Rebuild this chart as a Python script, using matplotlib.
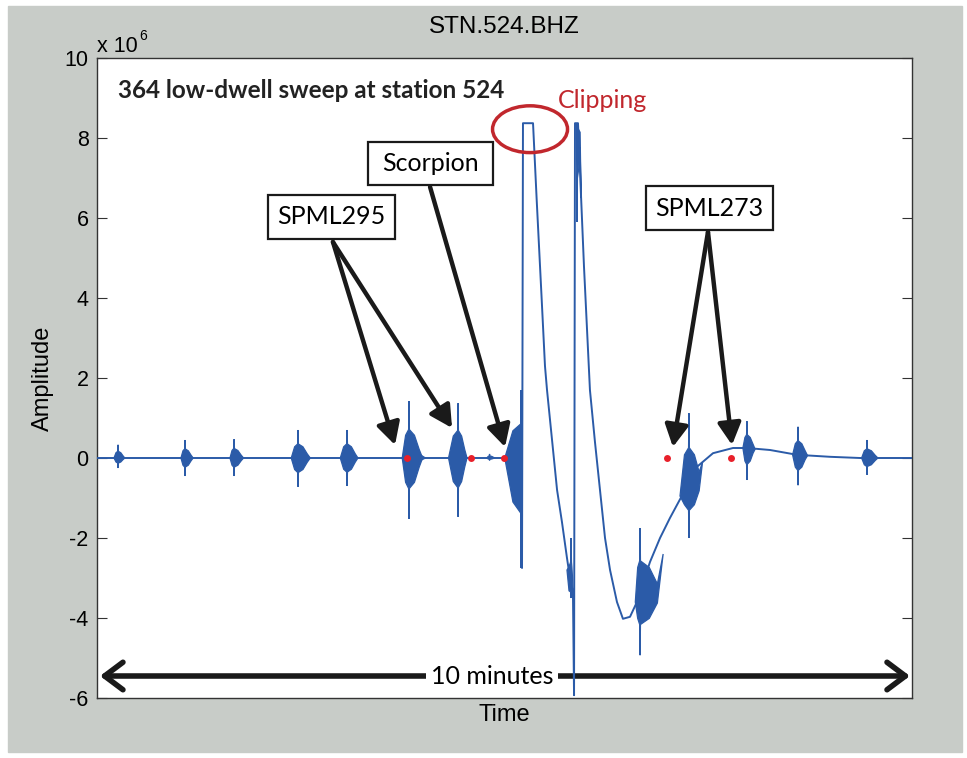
import numpy as np
import matplotlib.pyplot as plt
from matplotlib.patches import Ellipse, Rectangle
from matplotlib import font_manager


# ==================================================
# Data (time in s over a 10 minute window, amplitude in 1e6 counts)
# ==================================================

# slow part of the trace (baseline + the two clipped pulses)
trend_t = [0.0, 300.4, 312.2, 312.9, 313.6, 321.0, 323.7, 327.4, 329.8, 331.3,
           335.0, 338.7, 342.3, 346.0, 348.2, 350.4, 351.2, 351.9, 354.1, 358.5,
           362.9, 366.6, 370.3, 374.0, 377.7, 382.8, 387.2, 392.4, 397.5, 407.1,
           414.5, 421.8, 432.9, 441.7, 453.5, 468.2, 478.5, 495.5, 515.3, 539.6,
           561.7, 600.0]
trend_amp = [0.0, 0.0, 0.0, -2.75, 8.37, 8.37, 6.45, 3.95, 2.3, 1.7,
             0.45, -0.8, -1.6, -2.5, -3.0, -3.4, -5.93, 8.37, 8.37, 4.8,
             1.7, 0.4, -0.8, -2.0, -2.8, -3.6, -4.02, -3.97, -3.6, -2.6,
             -2.0, -1.5, -0.8, -0.22, 0.12, 0.25, 0.25, 0.2, 0.08, 0.03,
             0.0, 0.0]

# shot bursts: peak time, peak top / bottom, onset / coda length, base at start / end
burst_t = [15.5, 64.8, 100.9, 148.0, 184.1, 229.7, 265.8, 237.0, 289.0,
           312.2, 349.0, 353.4, 399.8, 435.8, 478.5, 516.1, 566.9]
burst_hi = [0.33, 0.45, 0.47, 0.70, 0.70, 1.42, 1.37, 0.15, 0.10,
            1.70, -2.0, 8.37, -1.75, 1.12, 0.92, 0.78, 0.45]
burst_lo = [-0.25, -0.45, -0.45, -0.72, -0.70, -1.52, -1.47, -0.12, -0.06,
            -2.75, -3.5, 5.9, -4.93, -2.0, -0.55, -0.68, -0.42]
burst_rise = [3, 3, 3, 5, 5, 5, 7, 2, 2,
              12, 3, 0.5, 3.5, 6.6, 3, 4, 4]
burst_fall = [5, 6, 7, 9, 8, 10, 6.6, 5, 4,
              0.5, 1.5, 3, 17, 10, 6, 7, 8]
burst_b0 = [0, 0, 0, 0, 0, 0, 0, 0, 0,
            0, -2.8, 8.37, -3.6, -0.95, 0.25, 0.08, 0]
burst_b1 = [0, 0, 0, 0, 0, 0, 0, 0, 0,
            0, -3.4, 6.5, -2.4, -0.1, 0.22, 0.06, 0]

# picked arrivals
pick_t = [228.2, 275.3, 299.6, 419.6, 466.7]
pick_amp = [0.0, 0.0, 0.0, 0.0, 0.0]


# ==================================================
# style
# ==================================================

blue = "#2b5ba8"
red_dot = "#e8202a"
red_note = "#c1272d"
ink = "#1a1a1a"

names = {f.name for f in font_manager.fontManager.ttflist}
axis_font = "Liberation Sans" if "Liberation Sans" in names else "DejaVu Sans"
note_font = "Lato" if "Lato" in names else axis_font

plt.rcParams["font.family"] = [axis_font, "DejaVu Sans"]
plt.rcParams["axes.unicode_minus"] = False

W, H = 967, 758


def fx(px):
    return px / W


def fy(py):
    return 1 - py / H


fig = plt.figure(figsize=(W / 100, H / 100), dpi=100)
fig.patch.set_facecolor("white")
fig.patches.append(
    Rectangle((fx(8), fy(752)), fx(962) - fx(8), fy(6) - fy(752),
              transform=fig.transFigure, color="#c8ccc8", zorder=-10)
)

ax = fig.add_axes([fx(97), fy(698), fx(912) - fx(97), fy(58) - fy(698)])
ax.set_facecolor("white")


# ==================================================
# trace
# ==================================================

ax.plot(trend_t, trend_amp, color=blue, lw=1.4, zorder=5)

# each burst: thin spike to the peak values + a spindle-shaped body
for t, hi, lo, r, f, b0, b1 in zip(burst_t, burst_hi, burst_lo, burst_rise,
                                  burst_fall, burst_b0, burst_b1):
    bp = b0 + (b1 - b0) * r / (r + f)
    xs = [t - r, t - 0.5 * r, t - 0.3, t, t + 0.3, t + 0.4 * f,
          t + 0.75 * f, t + f]
    top = [b0, bp + 0.4 * (hi - bp), bp + 0.5 * (hi - bp), hi,
           bp + 0.5 * (hi - bp), bp + 0.4 * (hi - bp),
           bp + 0.15 * (hi - bp), b1]
    bot = [b0, bp + 0.4 * (lo - bp), bp + 0.5 * (lo - bp), lo,
           bp + 0.5 * (lo - bp), bp + 0.4 * (lo - bp),
           bp + 0.15 * (lo - bp), b1]
    ax.fill(xs + xs[::-1], top + bot[::-1], color=blue, lw=0.9, zorder=5)

ax.plot(pick_t, pick_amp, "o", color=red_dot, ms=5, mec="none", zorder=6)


# ==================================================
# axes
# ==================================================

ax.set_xlim(0, 600)
ax.set_ylim(-6, 10)
ax.set_xticks([])
ax.set_yticks(range(-6, 11, 2))
ax.tick_params(direction="in", length=7, right=True, labelsize=15.5,
               colors="#333333", labelcolor="black", pad=6)
for s in ax.spines.values():
    s.set_color("#333333")
    s.set_linewidth(1.0)

ax.set_title("STN.524.BHZ", fontsize=17.5, pad=18)
ax.set_xlabel("Time", fontsize=17, labelpad=4)
ax.set_ylabel("Amplitude", fontsize=17, labelpad=8)

fig.text(fx(97), fy(52), "x 10", fontsize=15.5, ha="left", va="baseline")
fig.text(fx(139), fy(40), "6", fontsize=10, ha="left", va="baseline")


# ==================================================
# annotations
# ==================================================

ax.text(15.5, 9.2, "364 low-dwell sweep at station 524", family=note_font,
        fontweight="bold", fontsize=17.5, ha="left", va="center", color="#222222")

ax.add_patch(Ellipse((318.8, 8.22), 55.2, 1.17, fill=False, ec=red_note,
                     lw=2.5, zorder=7))
ax.text(339.4, 8.93, "Clipping", family=note_font, fontsize=18,
        color=red_note, ha="left", va="center")

boxes = [
    ("Scorpion", 199.5, 6.825, 291.5, 7.9),
    ("SPML295", 125.9, 5.475, 219.4, 6.575),
    ("SPML273", 404.2, 5.7, 497.7, 6.8),
]
for label, x0, y0, x1, y1 in boxes:
    ax.add_patch(Rectangle((x0, y0), x1 - x0, y1 - y0, fc="white",
                           ec=ink, lw=1.6, zorder=8))
    ax.text((x0 + x1) / 2, (y0 + y1) / 2, label, family=note_font,
            fontsize=18, ha="center", va="center", zorder=9)

arrows = [
    ((173.7, 5.4), (219.4, 0.325)),
    ((173.7, 5.4), (261.4, 0.75)),
    ((245.2, 6.775), (300.4, 0.275)),
    ((449.8, 5.65), (424.0, 0.275)),
    ((449.8, 5.65), (467.5, 0.325)),
]
for start, tip in arrows:
    ax.annotate("", xy=tip, xytext=start,
                arrowprops=dict(arrowstyle="-|>,head_length=0.6,head_width=0.32",
                                lw=3.2, color=ink, mutation_scale=22,
                                shrinkA=0, shrinkB=0),
                zorder=8)

ax.annotate("", xy=(2.2, -5.45), xytext=(598.5, -5.45),
            arrowprops=dict(arrowstyle="<->,head_length=0.6,head_width=0.45",
                            lw=4, color=ink, mutation_scale=22,
                            shrinkA=0, shrinkB=0),
            zorder=3)
ax.text(290.8, -5.45, "10 minutes", family=note_font, fontsize=18,
        ha="center", va="center", zorder=4,
        bbox=dict(boxstyle="square,pad=0.2", fc="white", ec="none"))

fig.savefig("out.png", dpi=100, facecolor=fig.get_facecolor())
